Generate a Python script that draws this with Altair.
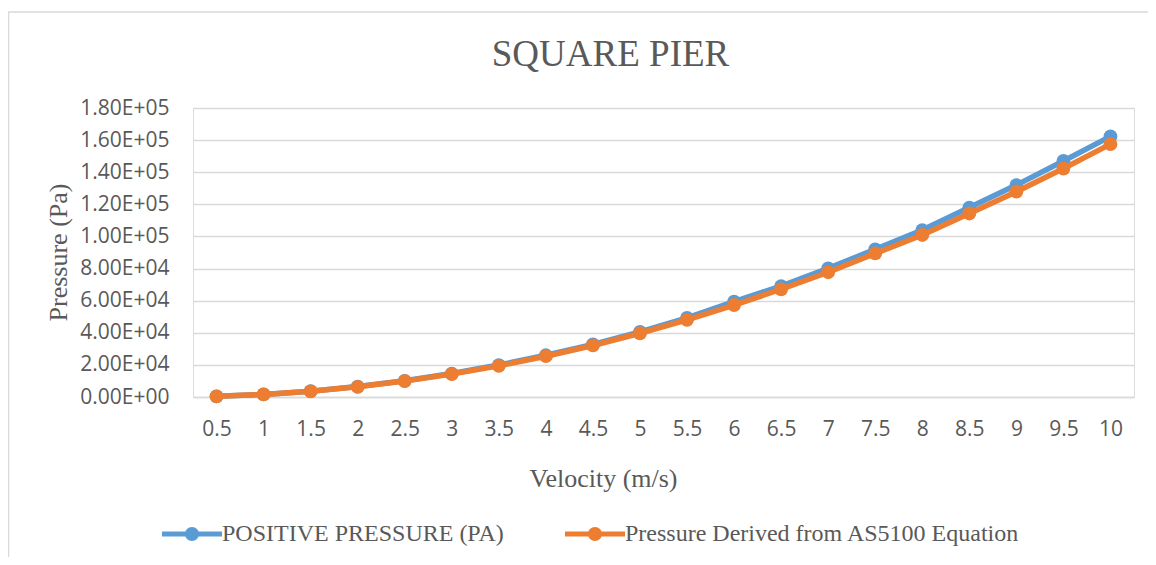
import altair as alt
import pandas as pd

velocity = ["0.5", "1", "1.5", "2", "2.5", "3", "3.5", "4", "4.5", "5",
            "5.5", "6", "6.5", "7", "7.5", "8", "8.5", "9", "9.5", "10"]
positive_pressure = [405, 1620, 3650, 6500, 10100, 14600, 19900, 26000, 32800, 40500,
                     49300, 59400, 69100, 80100, 92000, 104000, 118000, 132000, 147000, 162300]
as5100_pressure = [397, 1590, 3570, 6350, 9900, 14300, 19400, 25400, 32100, 39700,
                   48100, 57300, 67100, 77700, 89400, 100900, 114300, 127900, 142300, 157500]
series_names = ["POSITIVE PRESSURE (PA)", "Pressure Derived from AS5100 Equation"]
series_colors = ["#5B9BD5", "#ED7D31"]
y_ticks = [0, 20000, 40000, 60000, 80000, 100000, 120000, 140000, 160000, 180000]
y_tick_labels = ["0.00E+00", "2.00E+04", "4.00E+04", "6.00E+04", "8.00E+04",
                 "1.00E+05", "1.20E+05", "1.40E+05", "1.60E+05", "1.80E+05"]

rows = []
for v, a, b in zip(velocity, positive_pressure, as5100_pressure):
    rows.append({"Velocity": v, "Series": series_names[0], "Pressure": a})
    rows.append({"Velocity": v, "Series": series_names[1], "Pressure": b})
df = pd.DataFrame(rows)

label_expr = "[" + ",".join("'%s'" % s for s in y_tick_labels) + "][round(datum.value / 20000)]"

GRAY = "#595959"
SERIF = "Liberation Serif"
SANS = "Open Sans"

symbol_path = ("M-1,-0.25 L5,-0.25 L5,0.25 L-1,0.25 Z "
               "M1.3,0 A0.7,0.7 0 1,1 2.7,0 A0.7,0.7 0 1,1 1.3,0 Z")

x_enc = alt.X(
    "Velocity:N", sort=velocity,
    scale=alt.Scale(type="point", padding=0.5),
    axis=alt.Axis(title="Velocity (m/s)", labelAngle=0, labelFont=SANS, labelFontSize=21,
                  labelColor=GRAY, labelPadding=21, ticks=False, tickSize=0,
                  domainColor="#D9D9D9", domainWidth=1.5,
                  titleFont=SERIF, titleFontSize=26, titleFontWeight="normal",
                  titleColor=GRAY, titleX=410, titleY=81, titleAlign="center",
                  titleBaseline="middle"),
)
y_enc = alt.Y(
    "Pressure:Q",
    scale=alt.Scale(domain=[0, 180000], nice=False, zero=True),
    axis=alt.Axis(title="Pressure (Pa)", values=y_ticks, labelExpr=label_expr,
                  labelFont=SANS, labelFontSize=21, labelColor=GRAY, labelPadding=24,
                  ticks=False, tickSize=0, domain=False,
                  grid=True, gridColor="#D9D9D9", gridWidth=1.5,
                  titleFont=SERIF, titleFontSize=26, titleFontWeight="normal",
                  titleColor=GRAY, titleX=-135, titleY=144, titleAngle=270,
                  titleAlign="center", titleBaseline="middle"),
)
color_enc = alt.Color(
    "Series:N",
    scale=alt.Scale(domain=series_names, range=series_colors),
    legend=alt.Legend(title=None, orient="none", legendX=-33, legendY=414,
                      direction="horizontal", symbolType=symbol_path, symbolSize=400,
                      symbolStrokeWidth=0, labelOffset=38, columnPadding=59,
                      labelFont=SERIF, labelFontSize=24, labelColor=GRAY, labelLimit=600),
)

base = alt.Chart(df).encode(x=x_enc, y=y_enc, color=color_enc)
layers = []
for name in series_names:
    sub = base.transform_filter(alt.datum.Series == name)
    layers.append(sub.mark_line(strokeWidth=5.5))
    layers.append(sub.mark_point(filled=True, size=190, opacity=1))

one = pd.DataFrame({"k": [0]})
left_border = alt.Chart(one).mark_rule(color="#D9D9D9", strokeWidth=1.5).encode(
    x=alt.value(-184.5), y=alt.value(-96), y2=alt.value(449))
top_border = alt.Chart(one).mark_rule(color="#D9D9D9", strokeWidth=1.5).encode(
    x=alt.value(-185), x2=alt.value(955), y=alt.value(-96))

chart = alt.layer(left_border, top_border, *layers).properties(
    width=941, height=289,
    autosize=alt.AutoSizeParams(type="none"),
    padding={"left": 185, "top": 100, "right": 14, "bottom": 160},
    title=alt.Title("SQUARE PIER", font=SERIF, fontSize=37, fontWeight="normal",
                    color=GRAY, anchor="middle", frame="group", dx=-53, offset=-63),
).configure_view(stroke=None).configure(background="white")

chart.save("out.html", embed_options={"renderer": "svg", "actions": False})
